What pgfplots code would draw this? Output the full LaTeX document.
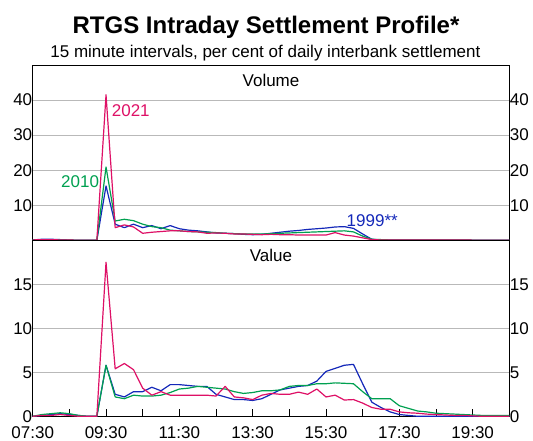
\documentclass[border=0pt]{standalone}
\usepackage{pgfplots}
\pgfplotsset{compat=1.18}
\usepackage{pgfplotstable}
\usepackage{fontspec}
\setmainfont{Liberation Sans}
\definecolor{cblue}{RGB}{20,40,185}
\definecolor{cgreen}{RGB}{0,160,80}
\definecolor{cred}{RGB}{222,16,102}
\definecolor{cgrid}{RGB}{185,185,185}

\pgfplotstableread{
t b g r
7.50 0.1 0.1 0.1
7.75 0.3 0.2 0.2
8.00 0.3 0.2 0.2
8.25 0.2 0.1 0.1
8.50 0.1 0.1 0.1
8.75 0.0 0.0 0.0
9.00 0.0 0.0 0.0
9.25 0.0 0.0 0.0
9.50 15.5 20.9 41.5
9.75 4.6 5.5 3.6
10.00 3.6 6.0 4.4
10.25 4.6 5.6 3.8
10.50 3.6 4.6 2.0
10.75 4.2 3.9 2.3
11.00 3.3 3.6 2.5
11.25 4.2 2.9 2.7
11.50 3.3 2.7 2.7
11.75 2.9 2.5 2.5
12.00 2.7 2.4 2.4
12.25 2.4 2.3 2.0
12.50 2.1 2.2 2.1
12.75 2.0 2.0 2.0
13.00 1.9 1.9 1.8
13.25 1.7 1.8 1.8
13.50 1.6 1.8 1.7
13.75 1.7 1.8 1.6
14.00 2.0 1.9 1.7
14.25 2.3 2.0 1.6
14.50 2.6 2.1 1.6
14.75 2.8 2.2 1.5
15.00 3.1 2.3 1.5
15.25 3.3 2.4 1.5
15.50 3.5 2.5 1.5
15.75 3.8 2.6 2.2
16.00 3.9 2.7 1.5
16.25 3.4 2.4 1.2
16.50 1.8 1.2 0.7
16.75 0.3 0.3 0.2
17.00 0.1 0.2 0.1
17.25 0.1 0.1 0.1
17.50 0.1 0.1 0.1
17.75 0.1 0.1 0.1
18.00 0.1 0.1 0.1
18.25 0.1 0.1 0.1
18.50 0.1 0.1 0.1
18.75 0.1 0.1 0.1
19.00 0.1 0.1 0.1
19.25 0.1 0.1 0.1
19.50 0.05 0.05 0.05
19.75 0.05 0.05 0.05
20.00 0.05 0.05 0.05
20.25 0.05 0.05 0.05
20.50 0.05 0.05 0.05
}\vol

\pgfplotstableread{
t b g r
7.50 0.0 0.0 0.0
7.75 0.1 0.2 0.1
8.00 0.2 0.3 0.1
8.25 0.3 0.4 0.2
8.50 0.2 0.3 0.1
8.75 0.1 0.1 0.0
9.00 0.0 0.0 0.0
9.25 0.0 0.0 0.0
9.50 5.8 5.8 17.5
9.75 2.5 2.2 5.4
10.00 2.2 2.0 6.0
10.25 2.8 2.4 5.3
10.50 2.8 2.3 3.2
10.75 3.3 2.3 2.4
11.00 2.9 2.4 2.8
11.25 3.6 2.7 2.4
11.50 3.6 3.1 2.4
11.75 3.5 3.2 2.4
12.00 3.4 3.4 2.4
12.25 3.4 3.3 2.4
12.50 2.5 3.2 2.3
12.75 2.2 3.1 3.4
13.00 1.9 2.8 2.2
13.25 1.9 2.6 2.1
13.50 1.8 2.7 1.9
13.75 2.0 2.9 2.4
14.00 2.5 2.9 2.6
14.25 3.0 3.0 2.5
14.50 3.2 3.4 2.5
14.75 3.4 3.5 2.75
15.00 3.5 3.5 2.5
15.25 4.0 3.7 3.1
15.50 5.1 3.7 2.2
15.75 5.45 3.8 2.4
16.00 5.8 3.75 1.85
16.25 5.9 3.7 1.9
16.50 3.7 2.8 1.5
16.75 1.6 2.0 1.0
17.00 1.0 2.0 0.8
17.25 0.5 2.0 0.8
17.50 0.2 1.2 0.5
17.75 0.1 0.9 0.4
18.00 0.0 0.6 0.35
18.25 0.0 0.5 0.25
18.50 0.0 0.35 0.2
18.75 0.0 0.3 0.15
19.00 0.0 0.25 0.1
19.25 0.0 0.2 0.1
19.50 0.0 0.15 0.05
19.75 0.0 0.1 0.0
20.00 0.0 0.1 0.0
20.25 0.0 0.1 0.0
20.50 0.0 0.1 0.0
}\val

\pgfplotsset{
  panel/.style={
    scale only axis, width=476.6pt,
    xmin=7.5, xmax=20.5,
    axis line style={black, line width=0.8pt},
    ymajorgrids, grid style={cgrid, line width=0.8pt},
    ytick style={draw=none},
    tick label style={font=\fontsize{17}{20}\selectfont},
    /pgf/number format/assume math mode=true,
    yticklabel style={xshift=3pt},
    yticklabel pos=left,
  },
  rpanel/.style={
    scale only axis, width=476.6pt,
    xmin=7.5, xmax=20.5,
    axis y line*=right, axis x line=none,
    axis line style={draw=none},
    ytick style={draw=none},
    tick label style={font=\fontsize{17}{20}\selectfont},
    /pgf/number format/assume math mode=true,
    yticklabel style={xshift=-3pt},
  },
  ser/.style={line width=1.2pt, line join=round},
}

\begin{document}
\begin{tikzpicture}[x=1pt,y=1pt]
\path[use as bounding box] (-32.7pt,-23.7pt) rectangle (500.3pt,416.3pt);
\node[anchor=base, font=\bfseries\fontsize{24}{28}\selectfont] at (233.3pt,382.8pt) {RTGS Intraday Settlement Profile*};
\node[anchor=base, font=\fontsize{17}{20}\selectfont] at (232.7pt,358.3pt) {15 minute intervals, per cent of daily interbank settlement};

% Volume panel
\begin{axis}[panel, at={(0pt,176pt)}, anchor=south west, height=175.3pt,
  ymin=0, ymax=50, ytick={10,20,30,40}, xtick=\empty]
\addplot[ser, cblue] table[x=t,y=b]{\vol};
\addplot[ser, cgreen] table[x=t,y=g]{\vol};
\addplot[ser, cred] table[x=t,y=r]{\vol};
\node[anchor=base, font=\fontsize{17}{20}\selectfont] at (rel axis cs:0.5,1) [yshift=-21pt] {Volume};
\node[anchor=east, inner sep=0pt, font=\fontsize{17}{20}\selectfont] at (rel axis cs:0,1) [xshift=-3pt, yshift=-8.5pt] {\%};
\node[anchor=base west, inner sep=0pt, text=cred, font=\fontsize{17}{20}\selectfont] at (axis cs:9.654,35.2) {2021};
\node[anchor=base west, inner sep=0pt, text=cgreen, font=\fontsize{17}{20}\selectfont] at (axis cs:8.272,15.1) {2010};
\node[anchor=base west, inner sep=0pt, text=cblue, font=\fontsize{17}{20}\selectfont] at (axis cs:16.06,3.9) {1999**};
\end{axis}
\begin{axis}[rpanel, at={(0pt,176pt)}, anchor=south west, height=175.3pt,
  ymin=0, ymax=50, ytick={10,20,30,40}]
\node[anchor=west, inner sep=0pt, font=\fontsize{17}{20}\selectfont] at (rel axis cs:1,1) [xshift=3.5pt, yshift=-8.5pt] {\%};
\end{axis}

% Value panel
\begin{axis}[panel, at={(0pt,0pt)}, anchor=south west, height=176pt,
  ymin=0, ymax=20, ytick={0,5,10,15},
  xtick={7.5,8.5,...,20.5},
  xticklabels={07:30,,09:30,,11:30,,13:30,,15:30,,17:30,,19:30,},
  xtick pos=left, major tick length=7pt,
  xtick style={black, line width=0.8pt},
  xticklabel style={anchor=base, yshift=-21.8pt}]
\addplot[ser, cblue] table[x=t,y=b]{\val};
\addplot[ser, cgreen] table[x=t,y=g]{\val};
\addplot[ser, cred] table[x=t,y=r]{\val};
\node[anchor=base, font=\fontsize{17}{20}\selectfont] at (rel axis cs:0.5,1) [yshift=-21pt] {Value};
\node[anchor=east, inner sep=0pt, font=\fontsize{17}{20}\selectfont] at (rel axis cs:0,1) [xshift=-3pt, yshift=-8.5pt] {\%};
\end{axis}
\begin{axis}[rpanel, at={(0pt,0pt)}, anchor=south west, height=176pt,
  ymin=0, ymax=20, ytick={0,5,10,15}]
\node[anchor=west, inner sep=0pt, font=\fontsize{17}{20}\selectfont] at (rel axis cs:1,1) [xshift=3.5pt, yshift=-8.5pt] {\%};
\end{axis}
\end{tikzpicture}
\end{document}
